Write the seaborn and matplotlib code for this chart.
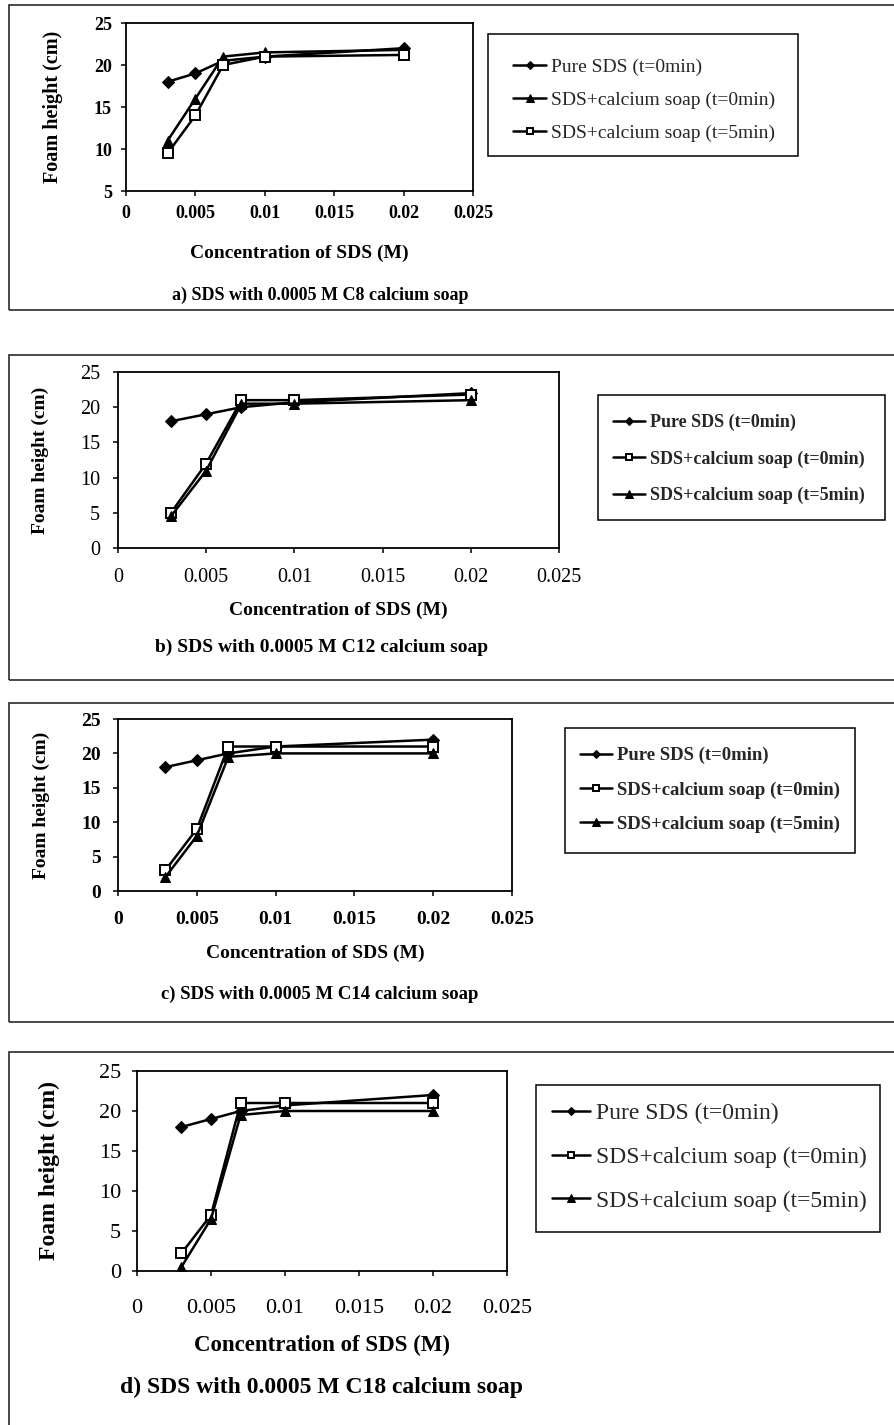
import matplotlib
matplotlib.use("Agg")
import matplotlib.pyplot as plt
import seaborn as sns
from matplotlib.patches import Rectangle

# SDS concentration (M) at which foam height was measured
conc = [0.003, 0.005, 0.007, 0.01, 0.02]

# a) C8 calcium soap
c8_pure = [18.0, 19.0, 20.5, 21.0, 22.0]
c8_soap_t0 = [11.0, 16.0, 21.0, 21.5, 21.8]
c8_soap_t5 = [9.5, 14.0, 20.0, 21.0, 21.2]

# b) C12 calcium soap
c12_pure = [18.0, 19.0, 20.0, 20.7, 22.0]
c12_soap_t0 = [5.0, 12.0, 21.0, 21.0, 21.8]
c12_soap_t5 = [4.5, 11.0, 20.5, 20.5, 21.0]

# c) C14 calcium soap
c14_pure = [18.0, 19.0, 20.0, 21.0, 22.0]
c14_soap_t0 = [3.0, 9.0, 21.0, 21.0, 21.0]
c14_soap_t5 = [2.0, 8.0, 19.5, 20.0, 20.0]

# d) C18 calcium soap
c18_pure = [18.0, 19.0, 20.0, 20.7, 22.0]
c18_soap_t0 = [2.2, 7.0, 21.0, 21.0, 21.0]
c18_soap_t5 = [0.5, 6.5, 19.5, 20.0, 20.0]

x_ticks = [0, 0.005, 0.01, 0.015, 0.02, 0.025]
x_tick_labels = ["0", "0.005", "0.01", "0.015", "0.02", "0.025"]

label_pure = "Pure SDS (t=0min)"
label_t0 = "SDS+calcium soap (t=0min)"
label_t5 = "SDS+calcium soap (t=5min)"

x_title = "Concentration of SDS (M)"
y_title = "Foam height (cm)"

captions = [
    "a) SDS with 0.0005 M C8 calcium soap",
    "b) SDS with 0.0005 M C12 calcium soap",
    "c) SDS with 0.0005 M C14 calcium soap",
    "d) SDS with 0.0005 M C18 calcium soap",
]

sns.set_theme(style="white")
plt.rcParams["font.family"] = ["Liberation Serif", "DejaVu Serif"]
plt.rcParams["axes.linewidth"] = 1.3

W, H = 895, 1425
PT = 72 / 100  # points per pixel at 100 dpi
fig = plt.figure(figsize=(W / 100, H / 100), dpi=100)
fig.patch.set_facecolor("white")


def frac_rect(l, t, r, b):
    return [l / W, 1 - b / H, (r - l) / W, (b - t) / H]


DIAMOND = dict(marker="D", markersize=6, markerfacecolor="black", markeredgecolor="black")
TRIANGLE = dict(marker="^", markersize=7.5, markerfacecolor="black", markeredgecolor="black")
SQUARE = dict(marker="s", markersize=7, markerfacecolor="white", markeredgecolor="black",
              markeredgewidth=1.4)

panels = [
    dict(series=[(c8_pure, DIAMOND, label_pure), (c8_soap_t0, TRIANGLE, label_t0),
                 (c8_soap_t5, SQUARE, label_t5)],
         frame=(9, 5, 905, 310), axes=(126, 23, 473, 191), ylim=(5, 25), yticks=[5, 10, 15, 20, 25],
         tick_fs=13, tick_w="bold", xpad=9, ypad=9,
         ylab_x=53, ylab_fs=14.5, xlab_y=253, xlab_fs=14, cap=(320, 295), cap_fs=13,
         box=(488, 34, 798, 156), leg_x=513, leg_y=100, leg_fs=14, leg_w="normal", leg_sp=0.8,
         handle=1.7),
    dict(series=[(c12_pure, DIAMOND, label_pure), (c12_soap_t0, SQUARE, label_t0),
                 (c12_soap_t5, TRIANGLE, label_t5)],
         frame=(9, 355, 905, 680), axes=(118, 372, 559, 548), ylim=(0, 25), yticks=[0, 5, 10, 15, 20, 25],
         tick_fs=14.5, tick_w="normal", xpad=15, ypad=13,
         ylab_x=40, ylab_fs=14, xlab_y=610, xlab_fs=14, cap=(322, 647), cap_fs=14,
         box=(598, 395, 885, 520), leg_x=613, leg_y=459, leg_fs=13, leg_w="bold", leg_sp=1.05,
         handle=1.8),
    dict(series=[(c14_pure, DIAMOND, label_pure), (c14_soap_t0, SQUARE, label_t0),
                 (c14_soap_t5, TRIANGLE, label_t5)],
         frame=(9, 703, 905, 1022), axes=(118, 719, 512, 891), ylim=(0, 25), yticks=[0, 5, 10, 15, 20, 25],
         tick_fs=14, tick_w="bold", xpad=15, ypad=12,
         ylab_x=41, ylab_fs=14, xlab_y=953, xlab_fs=14, cap=(320, 994), cap_fs=13.5,
         box=(565, 728, 855, 853), leg_x=580, leg_y=790, leg_fs=13.5, leg_w="bold", leg_sp=0.9,
         handle=1.7),
    dict(series=[(c18_pure, DIAMOND, label_pure), (c18_soap_t0, SQUARE, label_t0),
                 (c18_soap_t5, TRIANGLE, label_t5)],
         frame=(9, 1052, 905, 1440), axes=(137, 1071, 507, 1271), ylim=(0, 25), yticks=[0, 5, 10, 15, 20, 25],
         tick_fs=16, tick_w="normal", xpad=23, ypad=11,
         ylab_x=49, ylab_fs=17, xlab_y=1345, xlab_fs=16.5, cap=(322, 1387), cap_fs=17,
         box=(536, 1085, 880, 1232), leg_x=552, leg_y=1157, leg_fs=17, leg_w="normal", leg_sp=0.95,
         handle=1.6),
]

for idx, p in enumerate(panels):
    # outer border around each sub-figure
    fl, ft, fr, fb = p["frame"]
    fig.patches.append(Rectangle((fl / W, 1 - fb / H), (fr - fl) / W, (fb - ft) / H,
                                 transform=fig.transFigure, fill=False,
                                 edgecolor="#2a2a2a", linewidth=1.2))

    al, at, ar, ab = p["axes"]
    ax = fig.add_axes(frac_rect(al, at, ar, ab))
    ax.set_facecolor("white")

    lines = []
    labels = []
    for values, style, lab in p["series"]:
        sns.lineplot(x=conc, y=values, ax=ax, color="black", linewidth=1.8,
                     errorbar=None, sort=False, **style)
        lines.append(ax.get_lines()[-1])
        labels.append(lab)

    ax.set_xlim(0, 0.025)
    ax.set_ylim(*p["ylim"])
    ax.set_xticks(x_ticks)
    ax.set_xticklabels(x_tick_labels)
    ax.set_yticks(p["yticks"])
    ax.set_yticklabels([str(v) for v in p["yticks"]])
    for s in ax.spines.values():
        s.set_color("black")
        s.set_linewidth(1.3)
    ax.tick_params(axis="both", direction="out", length=5 * PT, width=1.1, colors="black",
                   labelsize=p["tick_fs"], bottom=True, left=True)
    ax.tick_params(axis="x", pad=p["xpad"] * PT)
    ax.tick_params(axis="y", pad=p["ypad"] * PT)
    for t in ax.get_xticklabels() + ax.get_yticklabels():
        t.set_fontweight(p["tick_w"])

    axw, axh = ar - al, ab - at
    ax.set_xlabel(x_title, fontsize=p["xlab_fs"], fontweight="bold", color="black")
    ax.xaxis.label.set_va("center")
    ax.xaxis.set_label_coords(0.5, -(p["xlab_y"] - ab) / axh)
    ax.set_ylabel(y_title, fontsize=p["ylab_fs"], fontweight="bold", color="black")
    ax.yaxis.label.set_va("center")
    ax.yaxis.set_label_coords(-(al - p["ylab_x"]) / axw, 0.5)

    cx, cy = p["cap"]
    fig.text(cx / W, 1 - cy / H, captions[idx], ha="center", va="center",
             fontsize=p["cap_fs"], fontweight="bold", color="black")

    # legend box
    bl, bt, br, bb = p["box"]
    fig.patches.append(Rectangle((bl / W, 1 - bb / H), (br - bl) / W, (bb - bt) / H,
                                 transform=fig.transFigure, fill=False,
                                 edgecolor="black", linewidth=1.1))
    ax.legend(lines, labels, loc="center left",
              bbox_to_anchor=(p["leg_x"] / W, 1 - p["leg_y"] / H),
              bbox_transform=fig.transFigure, frameon=False, borderpad=0,
              borderaxespad=0, handlelength=p["handle"], handletextpad=0.25,
              labelspacing=p["leg_sp"], markerscale=0.7,
              prop=dict(family=["Liberation Serif", "DejaVu Serif"], size=p["leg_fs"],
                        weight=p["leg_w"]))

fig.savefig("out.png", dpi=100, facecolor="white")
